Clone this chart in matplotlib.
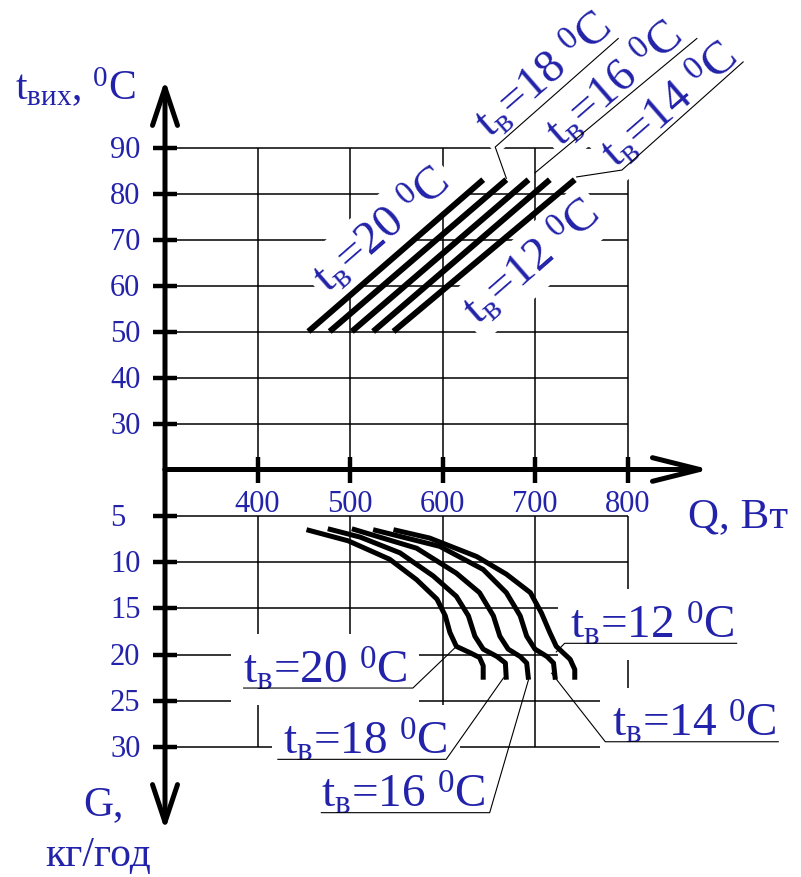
import matplotlib
matplotlib.use("Agg")
import matplotlib.pyplot as plt

plt.rcParams['font.family'] = ['Liberation Serif', 'DejaVu Serif']
plt.rcParams['mathtext.fontset'] = 'custom'
plt.rcParams['mathtext.rm'] = 'Liberation Serif'
plt.rcParams['mathtext.it'] = 'Liberation Serif:italic'
plt.rcParams['mathtext.bf'] = 'Liberation Serif:bold'

BLUE = '#2222aa'

# indoor air temperature for each curve, degC
t_air = [20, 18, 16, 14, 12]

# upper field: outlet temperature vs heat output Q (straight lines)
t_line = [50, 83]
q_at_t50 = [455, 478, 502, 525, 547]
q_at_t83 = [644, 669, 693, 716, 743]

# lower field: water flow G vs heat output Q
curve_q = [
    [453, 498, 543, 572, 594, 603, 608, 615, 630, 640, 644, 644],
    [476, 511, 554, 590, 615, 628, 635, 644, 659, 668, 669],
    [502, 572, 615, 640, 655, 662, 671, 684, 691, 693],
    [525, 597, 644, 669, 684, 691, 700, 713, 720, 722],
    [547, 586, 637, 669, 695, 707, 716, 723, 738, 743, 743],
]
curve_g = [
    [6.5, 7.7, 9.7, 11.9, 14.0, 15.8, 17.6, 19.1, 19.8, 20.3, 21.2, 22.7],
    [6.4, 7.3, 9.0, 11.5, 13.7, 15.8, 18.0, 19.4, 20.2, 20.9, 22.7],
    [6.4, 8.5, 11.2, 13.3, 15.8, 18.0, 19.4, 20.2, 20.9, 22.7],
    [6.5, 8.3, 10.8, 13.3, 15.8, 18.0, 19.4, 20.2, 20.9, 22.7],
    [6.5, 7.4, 9.4, 11.3, 13.3, 15.5, 17.6, 19.1, 20.5, 21.6, 22.7],
]

q_ticks = [400, 500, 600, 700, 800]
t_ticks = [30, 40, 50, 60, 70, 80, 90]
g_ticks = [5, 10, 15, 20, 25, 30]

# figure geometry (pixels) and scale of each field
W, H = 801, 877
X0, Y0 = 165, 469.5
KQ, KT, KG = 0.925, 4.6, 9.26
Q0, T0 = 300, 20


def tb_label(t):
    # plain text between the math parts keeps "=" tight
    return r'$\mathrm{t_{в}}$=%d ${}^{0}$C' % t


fig = plt.figure(figsize=(W / 100, H / 100), dpi=100)
frac = (H - Y0) / H
ax_t = fig.add_axes([0, frac, 1, 1 - frac])
ax_g = fig.add_axes([0, 0, 1, frac])
xlim = (Q0 - X0 / KQ, Q0 + (W - X0) / KQ)
ax_t.set_xlim(xlim)
ax_t.set_ylim(T0, T0 + Y0 / KT)
ax_g.set_xlim(xlim)
ax_g.set_ylim((H - Y0) / KG, 0)
for ax in (ax_t, ax_g):
    ax.set_axis_off()
    ax.patch.set_visible(False)

# grid
grid = dict(color='k', lw=1.1, zorder=1)
ax_t.hlines(t_ticks, Q0, q_ticks[-1], **grid)
ax_t.vlines(q_ticks, T0, t_ticks[-1], **grid)
ax_g.hlines(g_ticks, Q0, q_ticks[-1], **grid)
ax_g.vlines(q_ticks, g_ticks[0], g_ticks[-1], **grid)

# axes with arrows
arrow_v = dict(arrowstyle='->,head_length=2.7,head_width=0.9', lw=3.6,
               color='k', shrinkA=0, shrinkB=0, clip_on=False)
arrow_h = dict(arrow_v, arrowstyle='->,head_length=3.4,head_width=0.85')
ax_t.annotate('', xy=(Q0, T0 + (Y0 - 80) / KT), xytext=(Q0, T0),
              arrowprops=arrow_v, annotation_clip=False, zorder=5)
ax_t.annotate('', xy=(Q0 + (710 - X0) / KQ, T0), xytext=(Q0, T0),
              arrowprops=arrow_h, annotation_clip=False, zorder=5)
ax_g.annotate('', xy=(Q0, (830 - Y0) / KG), xytext=(Q0, 0),
              arrowprops=arrow_v, annotation_clip=False, zorder=5)

tick = dict(ls='none', color='k', mew=3.2, clip_on=False, zorder=5)
ax_t.plot([Q0] * len(t_ticks), t_ticks, marker='_', ms=17, **tick)
ax_g.plot([Q0] * len(g_ticks), g_ticks, marker='_', ms=17, **tick)
ax_t.plot(q_ticks, [T0] * len(q_ticks), marker='|', ms=19, **tick)

lab = dict(textcoords='offset pixels', color=BLUE, fontsize=22,
           annotation_clip=False, va='baseline')
for t in t_ticks:
    ax_t.annotate(str(t), (Q0, t), xytext=(-55, -10), ha='left', **lab)
for g in g_ticks:
    ax_g.annotate(str(g), (Q0, g), xytext=(-55, -10), ha='left', **lab)
for q in q_ticks:
    ax_t.annotate(str(q), (q, T0), xytext=(0, -43), ha='center', **lab)

# axis titles
fig.text(15 / W, 1 - 100 / H, r'$\mathrm{t_{вих}}$, ${}^{0}$C',
         fontsize=30, color=BLUE)
fig.text(688 / W, 1 - 527 / H, 'Q, Вт', fontsize=31, color=BLUE)
fig.text(83 / W, 1 - 815 / H, 'G,', fontsize=30, color=BLUE)
fig.text(45 / W, 1 - 866 / H, 'кг/год', fontsize=30, color=BLUE)

# upper field: lines and their labels
for qa, qb in zip(q_at_t50, q_at_t83):
    ax_t.plot([qa, qb], t_line, color='k', lw=4.3, solid_capstyle='butt',
              zorder=4)

box = dict(boxstyle='square,pad=0.12', fc='white', ec='none')
upper_pos = {20: (477, 58.1), 18: (652, 91.8), 16: (729, 89.7),
             14: (788, 85.3), 12: (639, 51.1)}
for t, (q, y) in upper_pos.items():
    ax_t.text(q, y, tb_label(t), rotation=41, rotation_mode='anchor',
              ha='left', va='baseline', fontsize=34, color=BLUE,
              bbox=box, zorder=3)

leader = dict(color='k', lw=0.8, zorder=4, clip_on=False)
upper_leaders = [
    ([669, 657, 790], [83.3, 90.1, 113.7]),
    ([700, 875], [84.5, 113.7]),
    ([745, 794, 925], [83.6, 85.1, 108.6]),
]
for xs, ys in upper_leaders:
    ax_t.plot(xs, ys, **leader)

# lower field: flow curves and their labels
for q, g in zip(curve_q, curve_g):
    ax_g.plot(q, g, color='k', lw=3.6, solid_joinstyle='round',
              solid_capstyle='butt', zorder=4)

lower_pos = {20: (384, 23.06), 18: (428, 30.72), 16: (469, 36.52),
             14: (783, 28.86), 12: (738, 18.23)}
box_low = dict(boxstyle='square,pad=0.25', fc='white', ec='none')
for t, (q, y) in lower_pos.items():
    ax_g.text(q, y, tb_label(t), ha='left', va='baseline', fontsize=34,
              color=BLUE, bbox=box_low, zorder=3)

lower_leaders = [
    ([613, 568, 385], [19.3, 23.6, 23.6]),
    ([666, 604, 422], [22.5, 31.3, 31.3]),
    ([693, 651, 469], [22.7, 37.06, 37.06]),
    ([718, 776, 963], [22.0, 29.4, 29.4]),
    ([723, 732, 918], [19.7, 18.77, 18.77]),
]
for xs, ys in lower_leaders:
    ax_g.plot(xs, ys, **leader)

fig.savefig('out.png', dpi=100)
